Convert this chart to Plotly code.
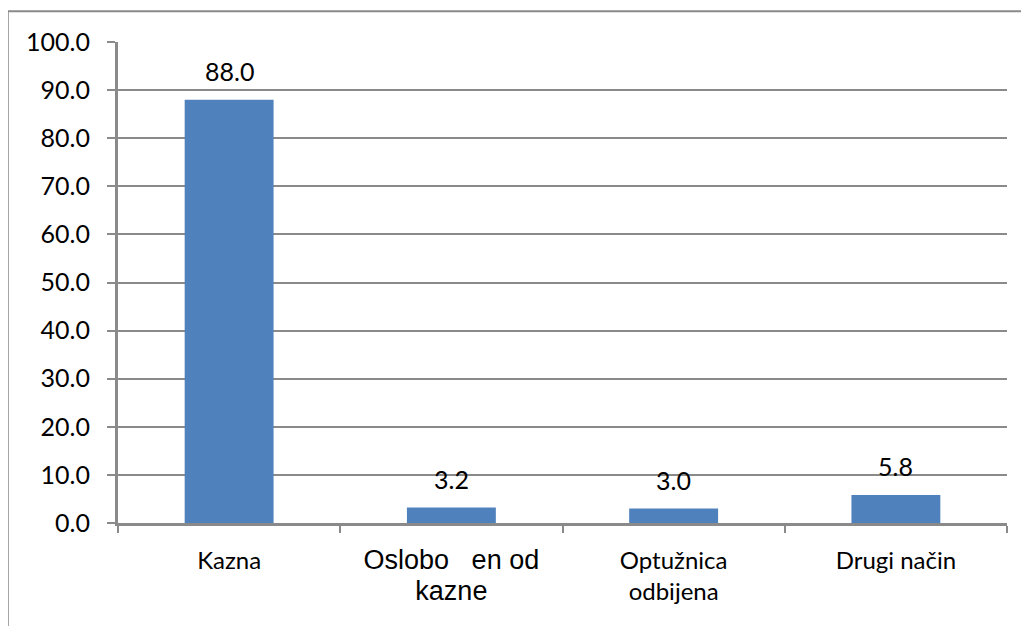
import plotly.graph_objects as go

categories = ["Kazna", "Oslobo   en od kazne", "Optužnica odbijena", "Drugi način"]
values = [88.0, 3.2, 3.0, 5.8]
tick_labels = [
    "Kazna",
    "<span style='font-family:Liberation Sans, Arial;font-size:27px'>Oslobo   en od<br>kazne</span>",
    "Optužnica<br>odbijena",
    "Drugi način",
]
y_ticks = [0, 10, 20, 30, 40, 50, 60, 70, 80, 90, 100]

FONT = "Lato, Carlito, sans-serif"

fig = go.Figure()
fig.add_trace(go.Bar(
    x=categories, y=values,
    marker=dict(color="#4F81BD", line=dict(width=0)),
    width=0.4,
    cliponaxis=False,
))
for c, v in zip(categories, values):
    fig.add_annotation(x=c, y=v, text=f"{v:.1f}", showarrow=False,
                       yanchor="bottom", yshift=12,
                       font=dict(family=FONT, size=25, color="black"))

fig.update_layout(
    width=1029, height=626,
    margin=dict(l=110, r=30, t=34, b=111, autoexpand=False),
    paper_bgcolor="white", plot_bgcolor="white",
    showlegend=False,
    font=dict(family=FONT, size=24, color="black"),
    shapes=[dict(type="rect", xref="paper", yref="paper",
                 x0=-0.124, x1=1.05, y0=-0.4, y1=1.064,
                 line=dict(color="#8a8a8a", width=2), fillcolor="rgba(0,0,0,0)", layer="below")],
)
fig.update_xaxes(
    tickmode="array", tickvals=categories, ticktext=tick_labels,
    tickson="boundaries", ticks="outside", ticklen=7, tickcolor="#8a8a8a", tickwidth=2,
    showline=True, linecolor="#8a8a8a", linewidth=3,
    tickfont=dict(family=FONT, size=24, color="black"),
    ticklabelstandoff=14, automargin=False,
    showgrid=False,
)
fig.update_yaxes(
    range=[0, 100], tickvals=y_ticks, tickformat=".1f",
    ticks="outside", ticklen=8, tickcolor="#8a8a8a", tickwidth=2,
    showline=True, linecolor="#8a8a8a", linewidth=3,
    showgrid=True, gridcolor="#8a8a8a", gridwidth=2,
    tickfont=dict(family=FONT, size=25, color="black"),
    ticklabelstandoff=12, automargin=False,
    zeroline=False,
)
fig.write_html("out.html")
